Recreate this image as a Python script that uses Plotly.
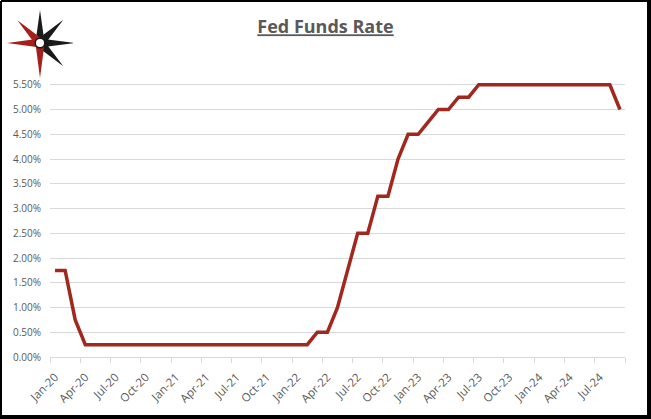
#!/usr/bin/env python3
"""Fed Funds Rate line chart (monthly, Jan-20 to Sep-24)."""
import base64
import math

import pandas as pd
import plotly.graph_objects as go

# ---------------------------------------------------------------------------
# Data
# ---------------------------------------------------------------------------

months = [d.strftime("%b-%y") for d in pd.date_range("2020-01-01", "2024-09-01", freq="MS")]

fed_funds_rate = [
    1.75, 1.75, 0.75, 0.25, 0.25, 0.25, 0.25, 0.25, 0.25, 0.25, 0.25, 0.25,   # 2020
    0.25, 0.25, 0.25, 0.25, 0.25, 0.25, 0.25, 0.25, 0.25, 0.25, 0.25, 0.25,   # 2021
    0.25, 0.25, 0.50, 0.50, 1.00, 1.75, 2.50, 2.50, 3.25, 3.25, 4.00, 4.50,   # 2022
    4.50, 4.75, 5.00, 5.00, 5.25, 5.25, 5.50, 5.50, 5.50, 5.50, 5.50, 5.50,   # 2023
    5.50, 5.50, 5.50, 5.50, 5.50, 5.50, 5.50, 5.50, 5.00,                     # 2024
]

y_ticks = [i * 0.5 for i in range(13)]
y_tick_text = [f"{v:.2f}%" for v in y_ticks]

# ---------------------------------------------------------------------------
# Layout geometry (pixels)
# ---------------------------------------------------------------------------

W, H = 651, 419
L, R, T, B = 50, 26, 60, 62
PW, PH = W - L - R, H - T - B

LINE_RED = "#A0281E"
GRID = "#D9D9D9"
TEXT = "#595959"


def px_x(px):
    return (px - L) / PW


def px_y(py):
    return (H - B - py) / PH


def logo_svg():
    """Compass-star logo with white backing box."""
    cx, cy = 37, 40
    rays = [  # (angle deg, length, colour)
        (-90, 33, "#1A1A1A"), (-45, 33, "#1A1A1A"), (0, 34, "#1A1A1A"), (45, 33, "#1A1A1A"),
        (90, 35, "#A51F1B"), (180, 33, "#A51F1B"), (-135, 32, "#A51F1B"),
    ]
    parts = ['<rect x="0" y="0" width="70" height="76" fill="white"/>']
    for ang, length, col in rays:
        a = math.radians(ang)
        ux, uy = math.cos(a), math.sin(a)
        nx, ny = -uy, ux
        hw = 4.6
        pts = [
            (cx + nx * hw, cy + ny * hw),
            (cx + ux * length, cy + uy * length),
            (cx - nx * hw, cy - ny * hw),
        ]
        parts.append('<polygon points="%s" fill="%s"/>' % (
            " ".join(f"{x:.2f},{y:.2f}" for x, y in pts), col))
    parts.append(f'<circle cx="{cx}" cy="{cy}" r="5.5" fill="#1A1A1A"/>')
    parts.append(f'<circle cx="{cx}" cy="{cy}" r="4" fill="white"/>')
    svg = ('<svg xmlns="http://www.w3.org/2000/svg" width="70" height="76" '
           'viewBox="0 0 70 76" preserveAspectRatio="none">' + "".join(parts) + "</svg>")
    return "data:image/svg+xml;base64," + base64.b64encode(svg.encode()).decode()


# ---------------------------------------------------------------------------
# Figure
# ---------------------------------------------------------------------------

fig = go.Figure(go.Scatter(
    x=months,
    y=fed_funds_rate,
    mode="lines",
    line=dict(color=LINE_RED, width=3.5),
    hovertemplate="%{x}: %{y:.2f}%<extra></extra>",
))

fig.update_layout(
    width=W,
    height=H,
    margin=dict(l=L, r=R, t=T, b=B, autoexpand=False),
    paper_bgcolor="white",
    plot_bgcolor="white",
    showlegend=False,
    font=dict(family="Open Sans", size=10, color=TEXT),
    title=dict(
        text="<b><u>Fed Funds Rate</u></b>",
        x=0.5, xanchor="center", xref="container",
        y=1 - 27 / H, yanchor="middle", yref="container",
        font=dict(family="Open Sans", size=18, color=TEXT),
    ),
    xaxis=dict(
        type="category",
        range=[-0.5, len(months) - 0.5],
        dtick=3,
        tickson="boundaries",
        tickangle=-45,
        showgrid=False,
        showline=True,
        linecolor=GRID,
        linewidth=1,
        ticks="outside",
        tickcolor=GRID,
        ticklen=5,
        ticklabelstandoff=8,
        tickfont=dict(size=11.5, color=TEXT),
    ),
    yaxis=dict(
        range=[0, 6],
        tickvals=y_ticks,
        ticktext=y_tick_text,
        showgrid=True,
        gridcolor=GRID,
        gridwidth=1,
        zeroline=False,
        showline=False,
        ticks="",
        ticklabelstandoff=8,
        tickfont=dict(size=10, color=TEXT),
    ),
)

# logo top-left
fig.add_layout_image(dict(
    source=logo_svg(),
    xref="paper", yref="paper",
    x=px_x(3), y=px_y(3),
    sizex=70 / PW, sizey=76 / PH,
    xanchor="left", yanchor="top",
    sizing="stretch",
    layer="above",
))

# outer frame (thicker right / bottom edge like a shadow)
frame = dict(type="line", xref="paper", yref="paper", line=dict(color="black"))
fig.add_shape(**frame, x0=px_x(1), x1=px_x(649), y0=px_y(1), y1=px_y(1), line_width=2)
fig.add_shape(**frame, x0=px_x(1), x1=px_x(1), y0=px_y(1), y1=px_y(417), line_width=2)
fig.add_shape(**frame, x0=px_x(649), x1=px_x(649), y0=px_y(0), y1=px_y(419), line_width=4)
fig.add_shape(**frame, x0=px_x(0), x1=px_x(651), y0=px_y(417), y1=px_y(417), line_width=4)

fig.write_html(
    "out.html",
    config={"displayModeBar": False},
    post_script="document.body.style.margin = '0px';",
)
